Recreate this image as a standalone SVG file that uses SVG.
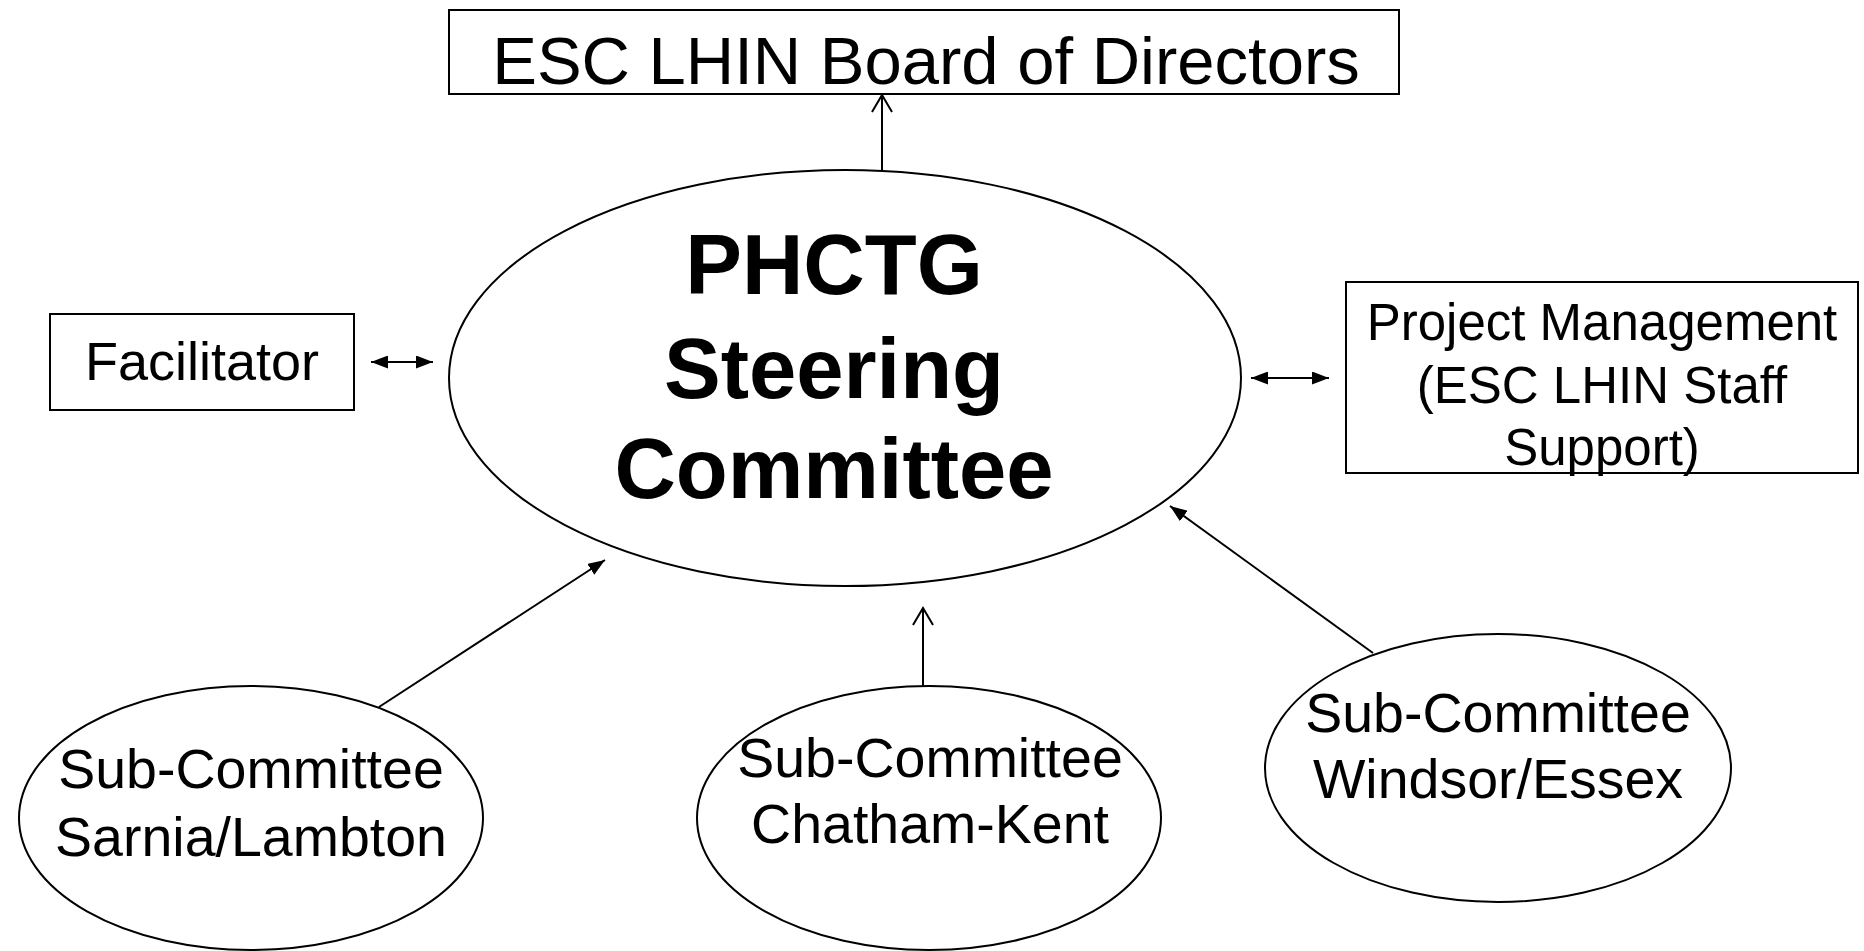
<svg xmlns="http://www.w3.org/2000/svg" width="1864" height="951" viewBox="0 0 1864 951">
<style>
.box{fill:#fff;stroke:#000;stroke-width:2}
.ell{fill:#fff;stroke:#000;stroke-width:2}
.t{font-family:"Liberation Sans",Arial,sans-serif;fill:#000;text-anchor:middle}
.b{font-weight:bold}
.ln{stroke:#000;stroke-width:2;fill:none}
</style>
<defs>
<marker id="tri" viewBox="0 0 17 13" refX="17" refY="6.5" markerWidth="17" markerHeight="13" markerUnits="userSpaceOnUse" orient="auto-start-reverse">
<path d="M0,0 L17,6.5 L0,13 z" fill="#000"/>
</marker>
<marker id="open" viewBox="0 0 20 22" refX="18" refY="11" markerWidth="20" markerHeight="22" markerUnits="userSpaceOnUse" orient="auto">
<path d="M1,1 L18,11 L1,21" fill="none" stroke="#000" stroke-width="2"/>
</marker>
</defs>
<rect width="1864" height="951" fill="#fff"/>
<g id="board">
<rect class="box" x="449" y="10" width="950" height="84"/>
<text class="t" x="926" y="84" font-size="67">ESC LHIN Board of Directors</text>
</g>
<g id="steering">
<ellipse class="ell" cx="845" cy="378" rx="396" ry="208"/>
<text class="t b" x="834" y="294" font-size="85">PHCTG</text>
<text class="t b" x="834" y="398" font-size="85">Steering</text>
<text class="t b" x="834" y="498" font-size="85">Committee</text>
</g>
<g id="facilitator">
<rect class="box" x="50" y="314" width="304" height="96"/>
<text class="t" x="202" y="380" font-size="54">Facilitator</text>
</g>
<g id="project">
<rect class="box" x="1346" y="282" width="512" height="191"/>
<text class="t" x="1602" y="340" font-size="51">Project Management</text>
<text class="t" x="1602" y="403" font-size="51">(ESC LHIN Staff</text>
<text class="t" x="1602" y="465" font-size="51">Support)</text>
</g>
<g id="sarnia">
<ellipse class="ell" cx="251" cy="818" rx="232" ry="132"/>
<text class="t" x="251" y="788" font-size="55.5">Sub-Committee</text>
<text class="t" x="251" y="856" font-size="55.5">Sarnia/Lambton</text>
</g>
<g id="chatham">
<ellipse class="ell" cx="929" cy="818" rx="232" ry="132"/>
<text class="t" x="930" y="777" font-size="55.5">Sub-Committee</text>
<text class="t" x="930" y="843" font-size="55.5">Chatham-Kent</text>
</g>
<g id="windsor">
<ellipse class="ell" cx="1498" cy="768" rx="233" ry="134"/>
<text class="t" x="1498" y="732" font-size="55.5">Sub-Committee</text>
<text class="t" x="1498" y="798" font-size="55.5">Windsor/Essex</text>
</g>
<g id="connectors">
<line class="ln" x1="882" y1="170" x2="882" y2="95" marker-end="url(#open)"/>
<line class="ln" x1="371" y1="362" x2="433" y2="362" marker-start="url(#tri)" marker-end="url(#tri)"/>
<line class="ln" x1="1251" y1="378" x2="1329" y2="378" marker-start="url(#tri)" marker-end="url(#tri)"/>
<line class="ln" x1="379" y1="707" x2="605" y2="560" marker-end="url(#tri)"/>
<line class="ln" x1="923" y1="687" x2="923" y2="608" marker-end="url(#open)"/>
<line class="ln" x1="1373" y1="653" x2="1170" y2="506" marker-end="url(#tri)"/>
</g>
</svg>
